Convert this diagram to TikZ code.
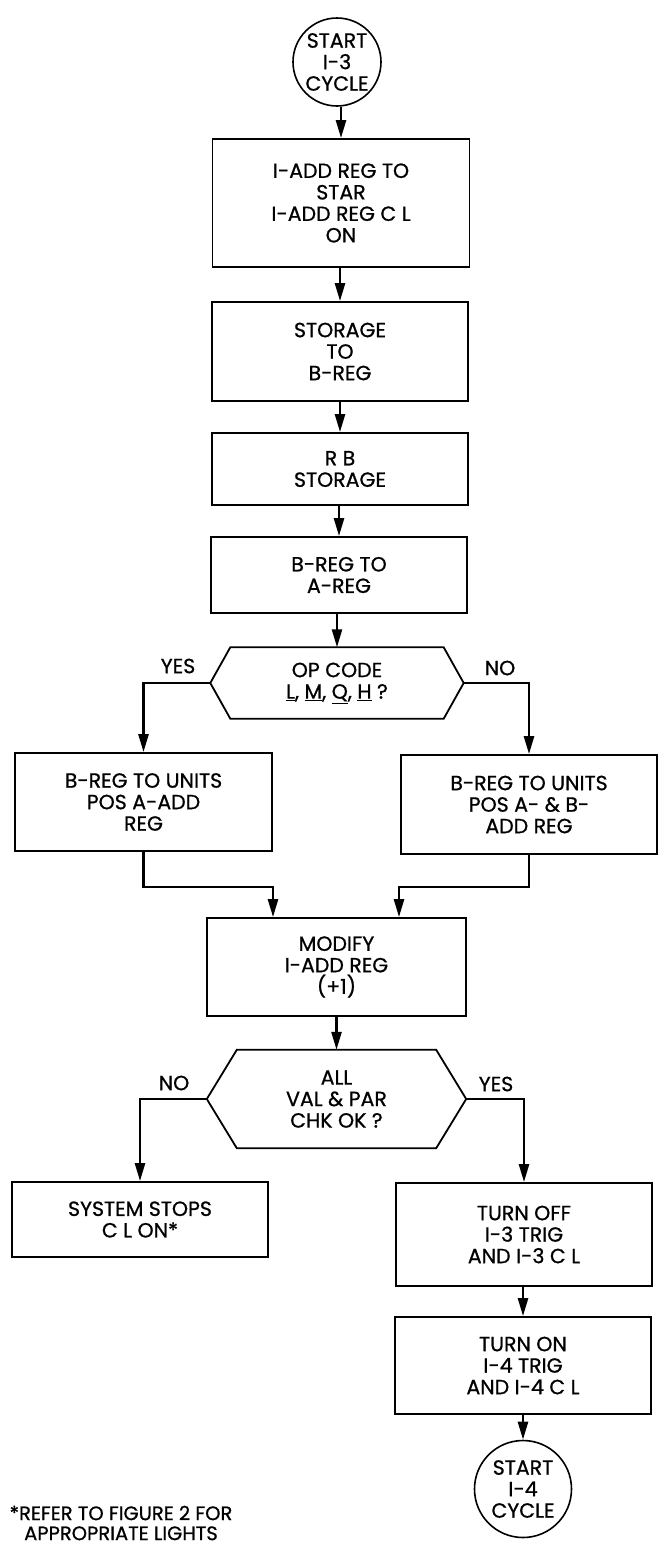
\documentclass[tikz,border=0pt]{standalone}
\usepackage{fontspec}
\newfontfamily\pop[FakeBold=0.8]{Poppins}
\usetikzlibrary{arrows.meta}
\newcommand\hexdraw[2]{\draw[hexline] (#1.west) -- ([xshift=#2]#1.north west) -- ([xshift=-#2]#1.north east) -- (#1.east) -- ([xshift=-#2]#1.south east) -- ([xshift=#2]#1.south west) -- cycle;}
\begin{document}
\begin{tikzpicture}[x=1pt,y=-1pt,
  every node/.style={font=\pop\fontsize{20.5}{21.5}\selectfont, align=center, inner sep=0pt},
  box/.style={draw, line width=1.8pt},
  term/.style={draw, circle, line width=1.6pt},
  hexline/.style={line width=1.8pt, line join=miter},
  conn/.style={line width=2.5pt, line join=miter, -{Triangle[length=18pt,width=10pt]}},
  lbl/.style={}]
\useasboundingbox (0,0) rectangle (662,1545);
% terminals
\node[term, minimum size=88pt] (c1) at (337,62) {START\\I-3\\CYCLE};
\node[term, minimum size=97pt] (c2) at (523,1489) {START\\I-4\\CYCLE};
% main column
\node[box, minimum width=257pt, minimum height=128pt] (b1) at (341,203) {I-ADD REG TO\\STAR\\I-ADD REG C L\\ON};
\node[box, minimum width=256pt, minimum height=99pt] (b2) at (340,351.5) {STORAGE\\TO\\B-REG};
\node[box, minimum width=256pt, minimum height=72pt] (b3) at (340,469) {R B\\STORAGE};
\node[box, minimum width=256pt, minimum height=76pt] (b4) at (339,575) {B-REG TO\\A-REG};
\node[minimum width=253pt, minimum height=71pt] (d1) at (337,683) {OP CODE\\\underline{L}, \underline{M}, \underline{Q}, \underline{H} ?};
\hexdraw{d1}{20pt}
\node[box, minimum width=257pt, minimum height=98pt] (bl) at (143.5,802) {B-REG TO UNITS\\POS A-ADD\\REG};
\node[box, minimum width=256pt, minimum height=99pt] (br) at (529,804.5) {B-REG TO UNITS\\POS A- \& B-\\ADD REG};
\node[box, minimum width=259pt, minimum height=98pt] (b5) at (336.5,967) {MODIFY\\I-ADD REG\\(+1)};
\node[minimum width=259pt, minimum height=98pt] (d2) at (336.5,1099) {ALL\\VAL \& PAR\\CHK OK ?};
\hexdraw{d2}{30pt}
\node[box, minimum width=256pt, minimum height=75pt] (bs) at (140,1219.5) {SYSTEM STOPS\\C L ON*};
\node[box, minimum width=256pt, minimum height=103pt] (bt1) at (524,1234.5) {TURN OFF\\I-3 TRIG\\AND I-3 C L};
\node[box, minimum width=256pt, minimum height=97pt] (bt2) at (523,1365.5) {TURN ON\\I-4 TRIG\\AND I-4 C L};
% labels
\node[lbl] (yes1) at (178,666) {YES};
\node[lbl] (no1) at (500,668) {NO};
\node[lbl] (no2) at (174,1083) {NO};
\node[lbl] (yes2) at (496,1084) {YES};
\node[lbl, font=\pop\fontsize{19.5}{20}\selectfont] (fn) at (121,1523) {*REFER TO FIGURE 2 FOR\\APPROPRIATE LIGHTS};
% junctions
\coordinate (j1) at (273,887);
\coordinate (j2) at (399,887);
% connectors
\draw[conn] (b1.north |- c1.south) -- (b1.north);
\draw[conn] (b1.south -| b2.north) -- (b2.north);
\draw[conn] (b2.south) -- (b2.south |- b3.north);
\draw[conn] (b3.south -| b4.north) -- (b4.north);
\draw[conn] (b4.south -| d1.north) -- (d1.north);
\draw[conn] (d1.west) -| (bl.north);
\draw[conn] (d1.east) -| (br.north);
\draw[conn] (bl.south) |- (j1) -- (j1 |- b5.north);
\draw[conn] (br.south) |- (j2) -- (j2 |- b5.north);
\draw[conn] (b5.south) -- (d2.north);
\draw[conn] (d2.west) -| (bs.north);
\draw[conn] (d2.east) -| (bt1.north);
\draw[conn] (bt1.south -| bt2.north) -- (bt2.north);
\draw[conn] (bt2.south -| c2.north) -- (c2.north);
\end{tikzpicture}
\end{document}
